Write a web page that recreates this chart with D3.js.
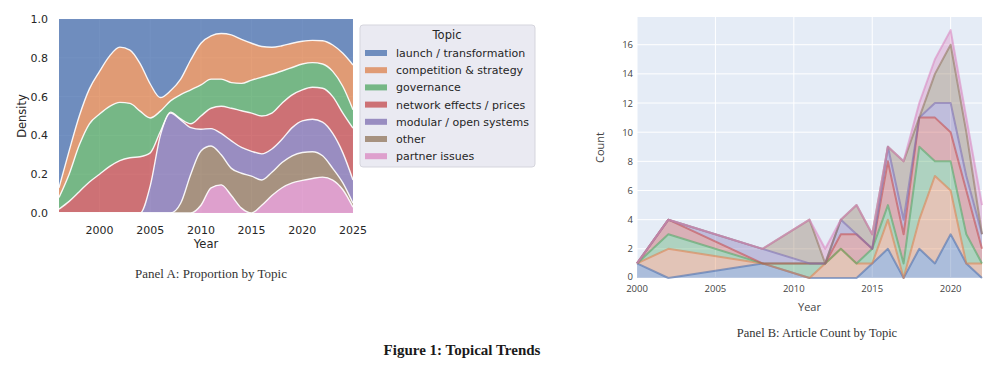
<!DOCTYPE html>
<html>
<head>
<meta charset="utf-8">
<script src="https://cdn.jsdelivr.net/npm/d3@7"></script>
<style>
  body { margin: 0; background: #fff; }
  svg { display: block; }
</style>
</head>
<body>
<script>
// topics, legend order (top of the stack first)
var topics = ["launch / transformation", "competition & strategy", "governance",
  "network effects / prices", "modular / open systems", "other", "partner issues"];
var colors = ["#4C72B0", "#DD8452", "#55A868", "#C44E52", "#8172B3", "#937860", "#DA8BC3"];

// Panel A: density shares per year
var densYears = [1996, 1997, 1998, 1999, 2000, 2001, 2002, 2003, 2004, 2005, 2006, 2007, 2008, 2009, 2010,
  2011, 2012, 2013, 2014, 2015, 2016, 2017, 2018, 2019, 2020, 2021, 2022, 2023, 2024, 2025];
var shareLaunch = [0.87, 0.68, 0.5, 0.36, 0.27, 0.19, 0.145, 0.16, 0.23, 0.335, 0.405, 0.37, 0.31, 0.21, 0.125,
  0.087, 0.075, 0.082, 0.105, 0.125, 0.142, 0.146, 0.138, 0.125, 0.115, 0.11, 0.112, 0.134, 0.177, 0.237];
var shareCompetition = [0.05, 0.12, 0.15, 0.18, 0.22, 0.26, 0.285, 0.275, 0.245, 0.175, 0.07, 0.052, 0.08, 0.155, 0.215,
  0.223, 0.235, 0.246, 0.227, 0.19, 0.158, 0.139, 0.13, 0.125, 0.117, 0.115, 0.12, 0.136, 0.171, 0.231];
var shareGovernance = [0.06, 0.14, 0.24, 0.3, 0.31, 0.31, 0.3, 0.28, 0.235, 0.18, 0.105, 0.058, 0.125, 0.175, 0.16,
  0.15, 0.14, 0.132, 0.141, 0.17, 0.2, 0.2, 0.166, 0.141, 0.133, 0.127, 0.125, 0.13, 0.137, 0.095];
var shareNetwork = [0.02, 0.06, 0.11, 0.16, 0.2, 0.24, 0.27, 0.285, 0.29, 0.17, 0.02, 0.005, 0.005, 0.02, 0.068,
  0.105, 0.14, 0.168, 0.189, 0.197, 0.195, 0.185, 0.186, 0.169, 0.16, 0.165, 0.175, 0.19, 0.205, 0.267];
var shareModular = [0, 0, 0, 0, 0, 0, 0, 0, 0, 0.14, 0.4, 0.515, 0.43, 0.24, 0.112,
  0.09, 0.11, 0.142, 0.133, 0.128, 0.135, 0.12, 0.12, 0.145, 0.163, 0.167, 0.173, 0.18, 0.155, 0.12];
var shareOther = [0, 0, 0, 0, 0, 0, 0, 0, 0, 0, 0, 0, 0.05, 0.2, 0.28,
  0.215, 0.155, 0.14, 0.18, 0.19, 0.13, 0.12, 0.13, 0.14, 0.144, 0.138, 0.11, 0.06, 0.035, 0.02];
var sharePartner = [0, 0, 0, 0, 0, 0, 0, 0, 0, 0, 0, 0, 0, 0, 0.04,
  0.13, 0.145, 0.09, 0.025, 0, 0.04, 0.09, 0.13, 0.155, 0.168, 0.178, 0.185, 0.17, 0.12, 0.03];

// Panel B: article counts per year
var countYears = [2000, 2002, 2008, 2011, 2012, 2013, 2014, 2015, 2016, 2017, 2018, 2019, 2020, 2021, 2022];
var countLaunch      = [1, 0, 1, 0, 0, 0, 0, 1, 2, 0, 2, 1, 3, 1, 0];
var countCompetition = [0, 2, 0, 0, 1, 2, 1, 0, 2, 0, 2, 6, 3, 0, 1];
var countGovernance  = [0, 1, 0, 1, 0, 0, 0, 1, 1, 1, 5, 1, 2, 2, 0];
var countNetwork     = [0, 1, 0, 0, 0, 1, 2, 0, 3, 2, 2, 3, 2, 3, 1];
var countModular     = [0, 0, 1, 0, 0, 1, 0, 0, 1, 1, 0, 1, 2, 1, 1];
var countOther       = [0, 0, 0, 3, 0, 0, 2, 1, 0, 4, 0, 2, 4, 3, 0];
var countPartner     = [0, 0, 0, 0, 1, 0, 0, 0, 0, 0, 1, 1, 1, 1, 2];

var densTicksX = [2000, 2005, 2010, 2015, 2020, 2025];
var densTicksY = [0, 0.2, 0.4, 0.6, 0.8, 1.0];
var countTicksX = [2000, 2005, 2010, 2015, 2020];
var countTicksY = [0, 2, 4, 6, 8, 10, 12, 14, 16];

var svgWidth = 1000;
var svgHeight = 370;

var svg = d3.select("body")
  .append("svg")
  .attr("width", svgWidth)
  .attr("height", svgHeight);

var shares = [shareLaunch, shareCompetition, shareGovernance, shareNetwork, shareModular, shareOther, sharePartner];
var counts = [countLaunch, countCompetition, countGovernance, countNetwork, countModular, countOther, countPartner];

// ---------- Panel A ----------
var a = { left: 59, right: 353, top: 19, bottom: 213 };
var xA = d3.scaleLinear().domain([1996, 2025]).range([a.left, a.right]);
var yA = d3.scaleLinear().domain([0, 1]).range([a.bottom, a.top]);

var densRows = densYears.map(function(yr, i) {
  var row = { year: yr };
  topics.forEach(function(t, k) { row[t] = shares[k][i]; });
  return row;
});

// seaborn stacks the first hue on top, so stack from the last topic up
var keysA = topics.slice().reverse();
var stackA = d3.stack().keys(keysA).offset(d3.stackOffsetExpand)(densRows);

var gA = svg.append("g");
gA.append("rect")
  .attr("x", a.left).attr("y", a.top)
  .attr("width", a.right - a.left).attr("height", a.bottom - a.top)
  .attr("fill", "#EAEAF2");

densTicksX.forEach(function(t) {
  gA.append("line").attr("x1", xA(t)).attr("x2", xA(t))
    .attr("y1", a.top).attr("y2", a.bottom).attr("stroke", "#fff");
});
densTicksY.forEach(function(t) {
  gA.append("line").attr("x1", a.left).attr("x2", a.right)
    .attr("y1", yA(t)).attr("y2", yA(t)).attr("stroke", "#fff");
});

var areaA = d3.area()
  .x(function(d) { return xA(d.data.year); })
  .y0(function(d) { return yA(d[0]); })
  .y1(function(d) { return yA(d[1]); })
  .curve(d3.curveMonotoneX);

var lineA = d3.line()
  .x(function(d) { return xA(d.data.year); })
  .y(function(d) { return yA(d[1]); })
  .curve(d3.curveMonotoneX);

stackA.forEach(function(layer) {
  var c = colors[topics.indexOf(layer.key)];
  gA.append("path").attr("d", areaA(layer))
    .attr("fill", c).attr("fill-opacity", 0.78);
});
stackA.forEach(function(layer, i) {
  if (i == stackA.length - 1) return;
  gA.append("path").attr("d", lineA(layer))
    .attr("fill", "none").attr("stroke", "#fff")
    .attr("stroke-opacity", 0.9).attr("stroke-width", 1.4);
});

gA.selectAll(".xt").data(densTicksX).enter().append("text")
  .attr("x", function(d) { return xA(d); })
  .attr("y", 234)
  .attr("text-anchor", "middle")
  .attr("font-family", "DejaVu Sans").attr("font-size", 11).attr("fill", "#262626")
  .text(function(d) { return d; });
gA.selectAll(".yt").data(densTicksY).enter().append("text")
  .attr("x", 48)
  .attr("y", function(d) { return yA(d) + 4; })
  .attr("text-anchor", "end")
  .attr("font-family", "DejaVu Sans").attr("font-size", 11).attr("fill", "#262626")
  .text(function(d) { return d.toFixed(1); });

gA.append("text")
  .attr("x", (a.left + a.right) / 2).attr("y", 248)
  .attr("text-anchor", "middle")
  .attr("font-family", "DejaVu Sans").attr("font-size", 11.5).attr("fill", "#262626")
  .text("Year");
gA.append("text")
  .attr("transform", "translate(26," + (a.top + a.bottom) / 2 + ") rotate(-90)")
  .attr("text-anchor", "middle")
  .attr("font-family", "DejaVu Sans").attr("font-size", 11.5).attr("fill", "#262626")
  .text("Density");

// legend
var leg = gA.append("g");
leg.append("rect")
  .attr("x", 360).attr("y", 25).attr("width", 175).attr("height", 142)
  .attr("rx", 3)
  .attr("fill", "#EAEAF2").attr("stroke", "#d5d5dd");
leg.append("text")
  .attr("x", 447).attr("y", 39)
  .attr("text-anchor", "middle")
  .attr("font-family", "DejaVu Sans").attr("font-size", 11.5).attr("fill", "#262626")
  .text("Topic");
topics.forEach(function(t, i) {
  var yy = 53 + i * 17.2;
  leg.append("rect")
    .attr("x", 365).attr("y", yy - 3).attr("width", 22).attr("height", 6)
    .attr("fill", colors[i]).attr("fill-opacity", 0.78);
  leg.append("text")
    .attr("x", 396).attr("y", yy + 4)
    .attr("font-family", "DejaVu Sans").attr("font-size", 11).attr("fill", "#262626")
    .text(t);
});

// ---------- Panel B ----------
var b = { left: 637, right: 982, top: 17, bottom: 278 };
var xB = d3.scaleLinear().domain([2000, 2022]).range([b.left, b.right]);
var yB = d3.scaleLinear().domain([0, 17.9]).range([b.bottom, b.top]);

var countRows = countYears.map(function(yr, i) {
  var row = { year: yr };
  topics.forEach(function(t, k) { row[t] = counts[k][i]; });
  return row;
});
var stackB = d3.stack().keys(topics)(countRows);

var gB = svg.append("g");
gB.append("rect")
  .attr("x", b.left).attr("y", b.top)
  .attr("width", b.right - b.left).attr("height", b.bottom - b.top)
  .attr("fill", "#E5ECF6");

countTicksX.forEach(function(t) {
  gB.append("line").attr("x1", xB(t)).attr("x2", xB(t))
    .attr("y1", b.top).attr("y2", b.bottom).attr("stroke", "#fff").attr("stroke-width", 1);
});
countTicksY.forEach(function(t) {
  gB.append("line").attr("x1", b.left).attr("x2", b.right)
    .attr("y1", yB(t)).attr("y2", yB(t)).attr("stroke", "#fff").attr("stroke-width", t == 0 ? 2 : 1);
});

var areaB = d3.area()
  .x(function(d) { return xB(d.data.year); })
  .y0(function(d) { return yB(d[0]); })
  .y1(function(d) { return yB(d[1]); });
var lineB = d3.line()
  .x(function(d) { return xB(d.data.year); })
  .y(function(d) { return yB(d[1]); });

stackB.forEach(function(layer, i) {
  gB.append("path").attr("d", areaB(layer))
    .attr("fill", colors[i]).attr("fill-opacity", 0.38);
});
stackB.forEach(function(layer, i) {
  gB.append("path").attr("d", lineB(layer))
    .attr("fill", "none").attr("stroke", colors[i])
    .attr("stroke-opacity", 0.6).attr("stroke-width", 2)
    .attr("stroke-linejoin", "round");
});

var tickFont = "'Open Sans', 'Liberation Sans', sans-serif";
gB.selectAll(".xt").data(countTicksX).enter().append("text")
  .attr("x", function(d) { return xB(d); })
  .attr("y", 292)
  .attr("text-anchor", "middle")
  .attr("font-family", tickFont).attr("font-size", 9.5).attr("fill", "#444")
  .text(function(d) { return d; });
gB.selectAll(".yt").data(countTicksY).enter().append("text")
  .attr("x", 633)
  .attr("y", function(d) { return yB(d) + (d == 0 ? 1.5 : 3.5); })
  .attr("text-anchor", "end")
  .attr("font-family", tickFont).attr("font-size", 9.5).attr("fill", "#444")
  .text(function(d) { return d; });

gB.append("text")
  .attr("x", (b.left + b.right) / 2).attr("y", 311)
  .attr("text-anchor", "middle")
  .attr("font-family", tickFont).attr("font-size", 11).attr("fill", "#444")
  .text("Year");
gB.append("text")
  .attr("transform", "translate(604," + (b.top + b.bottom) / 2 + ") rotate(-90)")
  .attr("text-anchor", "middle")
  .attr("font-family", tickFont).attr("font-size", 11).attr("fill", "#444")
  .text("Count");

// ---------- captions ----------
svg.append("text")
  .attr("x", 211).attr("y", 278)
  .attr("text-anchor", "middle")
  .attr("font-family", "'Liberation Serif', serif").attr("font-size", 13).attr("fill", "#333")
  .text("Panel A: Proportion by Topic");
svg.append("text")
  .attr("x", 817).attr("y", 337)
  .attr("text-anchor", "middle")
  .attr("font-family", "'Liberation Serif', serif").attr("font-size", 12.5).attr("fill", "#333")
  .text("Panel B: Article Count by Topic");
svg.append("text")
  .attr("x", 462).attr("y", 355)
  .attr("text-anchor", "middle")
  .attr("font-family", "'Liberation Serif', serif").attr("font-weight", "bold")
  .attr("font-size", 15).attr("fill", "#1a1a1a")
  .text("Figure 1: Topical Trends");
</script>
</body>
</html>
